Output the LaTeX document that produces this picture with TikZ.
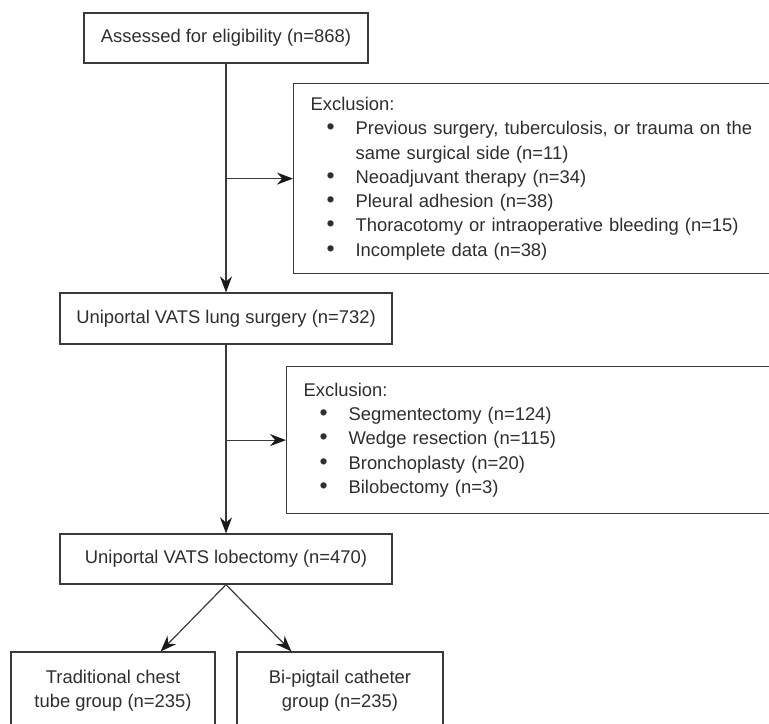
\documentclass[tikz,border=0pt]{standalone}
\usepackage{fontspec}
\setmainfont{Liberation Sans}
\usetikzlibrary{positioning, arrows.meta}
\definecolor{FlowLine}{HTML}{3A3A3A}
\definecolor{FlowText}{HTML}{2E2E2E}
\definecolor{FlowTip}{HTML}{1A1A1A}
\newcommand{\exbullet}{\makebox[22.5pt][l]{\hspace{8pt}\scalebox{1.25}{\textbullet}}}
\newcommand{\exindent}{\hspace*{22.5pt}}

\begin{document}
\begin{tikzpicture}[x=0.5pt, y=-0.5pt, font=\fontsize{9.2}{12.15}\selectfont, text=FlowText,
    box/.style={draw=FlowLine, line width=0.6pt, inner sep=0pt, align=center},
    exclbox/.style={draw=FlowLine, line width=0.6pt, anchor=north west, inner xsep=8.5pt, inner ysep=0pt, text width=283pt, align=left},
    flow/.style={draw=FlowLine, line width=0.6pt, -{Stealth[length=8pt, width=6pt, inset=2.6pt, color=FlowTip]}}]
    \clip (0,0) rectangle (769,723);

    \node[box, minimum width=142pt, minimum height=25pt] (assessed) at (226,38) {Assessed for eligibility (n=868)};
    \node[exclbox, minimum height=95pt] (excl1) at (293,83) {Exclusion:\\
        \exbullet Previous surgery, tuberculosis, or trauma on the\\
        \exindent same surgical side (n=11)\\
        \exbullet Neoadjuvant therapy (n=34)\\
        \exbullet Pleural adhesion (n=38)\\
        \exbullet Thoracotomy or intraoperative bleeding (n=15)\\
        \exbullet Incomplete data (n=38)};
    \node[box, minimum width=166pt, minimum height=25.5pt] (vats) at (226,318.5) {Uniportal VATS lung surgery (n=732)};
    \node[exclbox, minimum height=73.5pt] (excl2) at (286,366) {Exclusion:\\
        \exbullet Segmentectomy (n=124)\\
        \exbullet Wedge resection (n=115)\\
        \exbullet Bronchoplasty (n=20)\\
        \exbullet Bilobectomy (n=3)};
    \node[box, minimum width=166pt, minimum height=25pt] (lobe) at (226,559) {Uniportal VATS lobectomy (n=470)};
    \node[box, minimum width=102pt, minimum height=38.5pt] (tube) at (113,690.5) {Traditional chest\\tube group (n=235)};
    \node[box, minimum width=103pt, minimum height=38.5pt] (pigtail) at (340,690.5) {Bi-pigtail catheter\\group (n=235)};

    \draw[flow] (assessed) -- (vats);
    \draw[flow] (assessed.south |- excl1.west) -- (excl1.west);
    \draw[flow] (vats) -- (lobe);
    \draw[flow] (vats.south |- excl2.west) -- (excl2.west);
    \draw[flow] (lobe.south) -- ([xshift=-27.5pt]tube.north east);
    \draw[flow] (lobe.south) -- ([xshift=27.5pt]pigtail.north west);
\end{tikzpicture}
\end{document}
